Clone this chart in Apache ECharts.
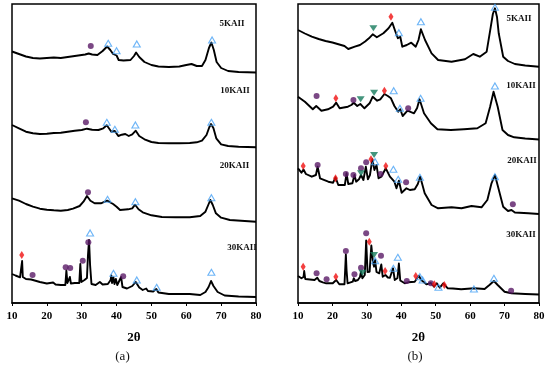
<!DOCTYPE html>
<html><head><meta charset="utf-8">
<script src="https://cdn.jsdelivr.net/npm/echarts@6/dist/echarts.min.js"></script>
<style>html,body{margin:0;padding:0;background:#fff}#c{width:550px;height:368px}</style>
</head><body><div id="c"></div>
<script>
// ---- Panel (a) traces: [2theta, intensity offset] ----
const a5 = [[10,251.5],[12,249],[14,246.5],[16,245],[18,244.5],[20,245],[22,245.5],[24,245],[26,246],[28,247],[30,248],[31,248.5],[32,249.5],[33,248.5],[34.5,248],[36,252],[37.3,256.5],[38.2,253],[39,249],[40,247.5],[40.6,243],[42,242.5],[44,243],[45,247],[45.6,250.5],[46.5,246],[48,241],[50,238],[52,236.5],[55,236],[58,236.5],[60,238],[61.5,239],[63,237],[64.5,237],[65.5,243],[66.5,255],[67.2,260.5],[67.9,253],[68.7,241],[70,235],[72,232],[75,231],[80,230.5]];
const a10 = [[10,178],[12,174.7],[14,171.3],[16,169.7],[18,169],[20,169.3],[22,170],[24,170.3],[26,171.3],[28,172.3],[30,173],[31.5,174.3],[33,173.3],[34.8,173],[36.2,174.7],[37.2,177.7],[38.5,171.3],[39.5,172],[40.5,167],[41.5,168.3],[42.5,169],[43.5,167],[44.5,168.7],[45.5,172.3],[46.5,167],[48,163.7],[50,161],[52,160],[55,159.7],[58,159.7],[61,160],[63,160.7],[64.5,162.3],[65.8,168],[66.6,175.7],[67.1,179],[67.8,174.7],[68.6,164.7],[70,158.7],[72,157],[75,156.3],[80,155.7]];
const a20 = [[10,104.7],[12,102.3],[14,99],[16,96.3],[18,94.3],[20,93.3],[22,92.7],[24,92.3],[26,93],[27.5,94.3],[29.4,97],[30.5,101.3],[31.5,107],[32.5,102.3],[33.7,99.7],[35.5,99.7],[37.3,102.3],[39,99],[40,96.3],[41,93],[43.3,93.7],[44.5,94.7],[45.3,98.3],[46.3,93.7],[47.5,90.7],[50,87.7],[53,86],[57,85.7],[61,85.7],[64,87],[65.5,91.3],[66.3,98],[66.9,103],[67.6,98],[68.5,89.7],[70,85.3],[72.5,83],[80,81.3]];
const a30 = [[10,29],[11,27.5],[12.3,25.7],[12.7,27],[12.9,42],[13.1,26],[14,24],[15.5,23.5],[16,24.5],[16.5,22.5],[18,21],[20,19.5],[21.8,20.5],[22.5,18.5],[24,18],[25.3,18],[25.6,32.5],[25.9,20],[26.4,21],[26.6,26],[26.9,19.5],[28,20],[28.5,22],[29.3,20],[29.6,39],[29.9,21],[30.8,23],[31.5,25],[31.8,48],[32.1,63],[32.4,38],[32.8,19],[34,18],[35.2,21],[36,18.5],[37.5,19],[38.3,23],[38.5,27.5],[38.7,20],[39.1,25.5],[39.4,19],[39.8,24],[40.2,18],[40.7,16],[41.3,26],[41.7,16],[43,14.5],[44.5,17],[45.5,21],[46.5,15.5],[47.5,13],[48.5,14.5],[49,12],[50.5,11.5],[51.4,14],[52,10.5],[55,9],[58,9],[61,9],[64,8],[65.5,11],[66.4,16],[67.1,22],[67.8,17],[69,11],[71,7.5],[75,6.5],[80,6]];
// ---- Panel (b) traces ----
const b5 = [[10,273],[12,269.5],[14,266.3],[16,264],[18,262],[20,260.5],[22,258.5],[23.5,257],[24.6,254],[26.5,256.3],[28,258],[29.5,261.5],[30.6,264.7],[31.7,268.7],[32.9,265.7],[34.8,269.7],[36.3,274.7],[37.4,280.3],[38.2,272.3],[39,264.7],[39.7,266.3],[40.3,256.3],[41.6,258],[42.9,260.3],[44.2,256.3],[45,263],[45.7,273.7],[46.9,263],[48.8,249.7],[50.7,243],[54.6,241.3],[58.5,243.7],[60.9,249],[62.8,246.3],[64.8,251.3],[66,276.3],[66.6,289],[67.2,294.7],[67.8,286],[68.3,269.7],[69.6,246.3],[71,242],[73,239],[76,237.5],[80,236.3]];
const b10 = [[10,206.3],[12,201.3],[14.3,193.7],[15.3,197],[16.8,192.3],[18.7,193.7],[20.2,196.3],[21.1,200.3],[22.1,194.7],[24.5,196.3],[25.5,198],[26.2,200.3],[27.2,197],[28.1,199],[29.3,194.7],[30.8,199.7],[31.7,206.3],[33,202.3],[33.9,203.7],[35.1,209],[36.1,207],[37,204.7],[38,197],[39.1,191.3],[39.7,193.7],[40.4,187],[41.8,192.3],[43.7,189.7],[44.6,195],[45.3,203.7],[46.6,189.7],[48.6,179.7],[50.5,173.7],[54.4,173],[58.2,173.7],[62.1,174.7],[64.5,179.7],[65.8,196.3],[66.8,211.3],[68,196.3],[69.4,173],[71,168],[72.8,165.7],[76,164.5],[80,163.5]];
const b20 = [[10,134.7],[11,130.3],[11.6,133.5],[12.3,129],[14,126.3],[15.2,128],[15.7,136.3],[16.4,124.7],[18.8,121.3],[20.2,120.3],[20.9,125.7],[21.7,118],[23.6,118],[24.1,129.7],[24.6,119],[25.8,119.7],[26.4,128],[26.9,121.3],[27.7,123.7],[28.3,128],[29,123],[29.7,136.3],[30.3,123.7],[30.9,128],[31.6,143.7],[32.2,133],[32.8,138],[33.4,124.7],[34.2,126.3],[35.5,134.7],[36.7,126.3],[38,121.3],[38.6,114.7],[39.3,122.3],[40.1,110.3],[41.5,114.7],[42.5,113],[43.9,113.7],[44.8,119],[45.5,126.3],[46.8,109.7],[48.8,98],[50.7,94.7],[54.6,95.7],[57.5,94.7],[60.4,97],[63.3,95.7],[65,103],[66.2,119.7],[67.2,128],[68.1,116.3],[69.6,96.3],[71,92],[72,93],[73,90.5],[76.9,89.7],[80,89]];
const b30 = [[10,27],[11,24.7],[11.6,26],[11.8,32],[12.1,24],[14.8,23],[15.6,25.3],[16.2,22],[17.2,20.7],[18.2,19.7],[20.1,19.7],[21.1,23],[22,18.7],[23.5,18.7],[23.7,33],[23.9,48.5],[24.1,33],[24.4,19.7],[25.9,21.3],[26.2,24.7],[26.6,22],[27.4,23],[28,26],[28.3,31.3],[28.7,24.7],[29.4,28],[29.8,62.5],[30.2,31],[30.8,31.3],[31.3,57.5],[31.8,40],[32.1,36.3],[32.4,43],[32.8,31],[33.6,29.7],[34.2,38.5],[34.6,26.3],[35.4,28],[36.1,25.5],[36.7,25.3],[37.6,34.7],[38.1,23],[38.9,25],[39.3,39.5],[39.7,22.5],[41,19.7],[42,20.7],[43.9,21.3],[45.1,27.3],[45.8,23],[47.3,18.7],[48.6,20],[48.9,22],[49.5,16.3],[50.3,19.7],[51.2,15.3],[52.2,19.7],[53.5,14.7],[55,14.5],[57.4,13.7],[61.2,14.7],[64.2,14],[65.6,18],[66.9,22],[68,18],[70,11.3],[72,9.7],[76,9],[80,8.5]];
// ---- Phase markers ----
const aCircle = [[32.6,257],[31.2,180.7],[31.8,110.7],[15.9,28],[25.4,35.7],[26.7,35],[30.3,42.3],[31.9,60.7],[41.9,26.7]];
const aTriangle = [[37.6,259.7],[40.0,252.3],[45.8,259],[67.4,263],[37.2,180.7],[39.5,173.7],[45.4,178],[67.2,180.7],[37.4,103.7],[45.4,101.3],[67.2,105.3],[32.4,70],[39.1,29.7],[45.8,23],[51.5,15.7],[67.2,30.7]];
const aDiamond = [[12.8,48]];
const bCircle = [[15.4,207],[26.1,203],[42.0,194.7],[15.7,138],[23.9,129],[26.1,128],[28.3,134.7],[29.8,140.7],[34.0,129],[41.4,120.7],[72.4,98.7],[15.4,29.7],[18.3,23.7],[23.9,52],[26.4,28.7],[28.3,35.3],[29.8,69.7],[34.1,47.3],[41.6,22],[48.6,19.7],[71.9,12.3]];
const bTriangle = [[39.3,270.3],[45.7,281.3],[67.2,295.7],[37.8,212.3],[39.6,194.7],[45.6,204.7],[67.2,217],[32.4,141.3],[37.7,133.7],[39.1,123.7],[45.4,125.7],[67.2,126.3],[32.4,42.3],[37.7,34.7],[39.0,45.7],[45.4,26.3],[46.2,23],[50.8,15.7],[61.1,14],[66.9,24.7]];
const bDiamond = [[37.0,286.3],[21.0,204.7],[35.1,212.3],[11.5,137],[20.9,124.7],[31.2,143.7],[35.5,137],[11.5,36.3],[21.0,26.3],[30.7,61.3],[35.3,32],[44.2,27],[49.6,18.7],[52.5,18]];
const bInvTri = [[31.9,274.7],[28.2,203.7],[32.1,210.3],[28.3,129.7],[32.1,148],[28.7,30.3],[32.1,48]];
const sampleNames = ['5KAII','10KAII','20KAII','30KAII'];
const xTicks = [10,20,30,40,50,60,70,80];

const SERIF = "'Liberation Serif', 'DejaVu Serif', serif";
const chart = echarts.init(document.getElementById('c'), null, {renderer:'canvas'});

function xAx(i){ return {type:'value', gridIndex:i, min:xTicks[0], max:xTicks[xTicks.length-1], interval:10,
  axisLine:{show:true, lineStyle:{color:'#000', width:1.5}},
  axisTick:{show:true, length:3, lineStyle:{color:'#000', width:1}},
  axisLabel:{color:'#000', fontFamily:SERIF, fontWeight:'bold', fontSize:11, margin:8},
  splitLine:{show:false},
  name:'2θ', nameLocation:'middle', nameGap:28,
  nameTextStyle:{color:'#000', fontFamily:SERIF, fontWeight:'bold', fontSize:13}}; }
function yAx(i){ return {type:'value', gridIndex:i, min:0, max:299, show:false}; }
function line(d,i){ return {type:'line', data:d, xAxisIndex:i, yAxisIndex:i, symbol:'none', silent:true,
  lineStyle:{color:'#000', width:1.9, join:'round'}, z:2}; }
function sc(d,i,shape,size,style,rot){ return {type:'scatter', data:d, xAxisIndex:i, yAxisIndex:i,
  symbol:shape, symbolSize:size, symbolRotate:rot||0, itemStyle:style, z:3, silent:true}; }
const purple = {color:'#5a1a66'};
const blueTri = {color:'rgba(255,255,255,0)', borderColor:'#4aa3f5', borderWidth:1.1};
const red = {color:'#f01010'};
const green = {color:'#157a5c'};

function txt(x,y,t,size,weight){ return {type:'text', x:x, y:y, style:{text:t, fill:'#111', font:(weight||'bold')+' '+size+'px '+SERIF, textAlign:'center', textVerticalAlign:'middle'}}; }

chart.setOption({
  animation:false,
  backgroundColor:'#fff',
  grid:[
    {left:12, top:4, width:244, height:299, show:true, borderColor:'#000', borderWidth:1.5},
    {left:298, top:4, width:241, height:299, show:true, borderColor:'#000', borderWidth:1.5}
  ],
  xAxis:[xAx(0), xAx(1)],
  yAxis:[yAx(0), yAx(1)],
  series:[
    line(a5,0), line(a10,0), line(a20,0), line(a30,0),
    line(b5,1), line(b10,1), line(b20,1), line(b30,1),
    sc(aCircle,0,'circle',6,purple), sc(aTriangle,0,'triangle',[7,6],blueTri), sc(aDiamond,0,'diamond',[5,8],red),
    sc(bCircle,1,'circle',6,purple), sc(bTriangle,1,'triangle',[7,6],blueTri), sc(bDiamond,1,'diamond',[5,8],red),
    sc(bInvTri,1,'triangle',[8,6],green,180)
  ],
  graphic:[
    txt(232,24,sampleNames[0],9), txt(235,91,sampleNames[1],9), txt(234.5,166,sampleNames[2],9), txt(242,248,sampleNames[3],9),
    txt(519,19,sampleNames[0],9), txt(521,85.5,sampleNames[1],9), txt(522,160.5,sampleNames[2],9), txt(521,235,sampleNames[3],9),
    txt(122.5,357,'(a)',13,'normal'), txt(415,357,'(b)',13,'normal')
  ]
});
</script></body></html>
